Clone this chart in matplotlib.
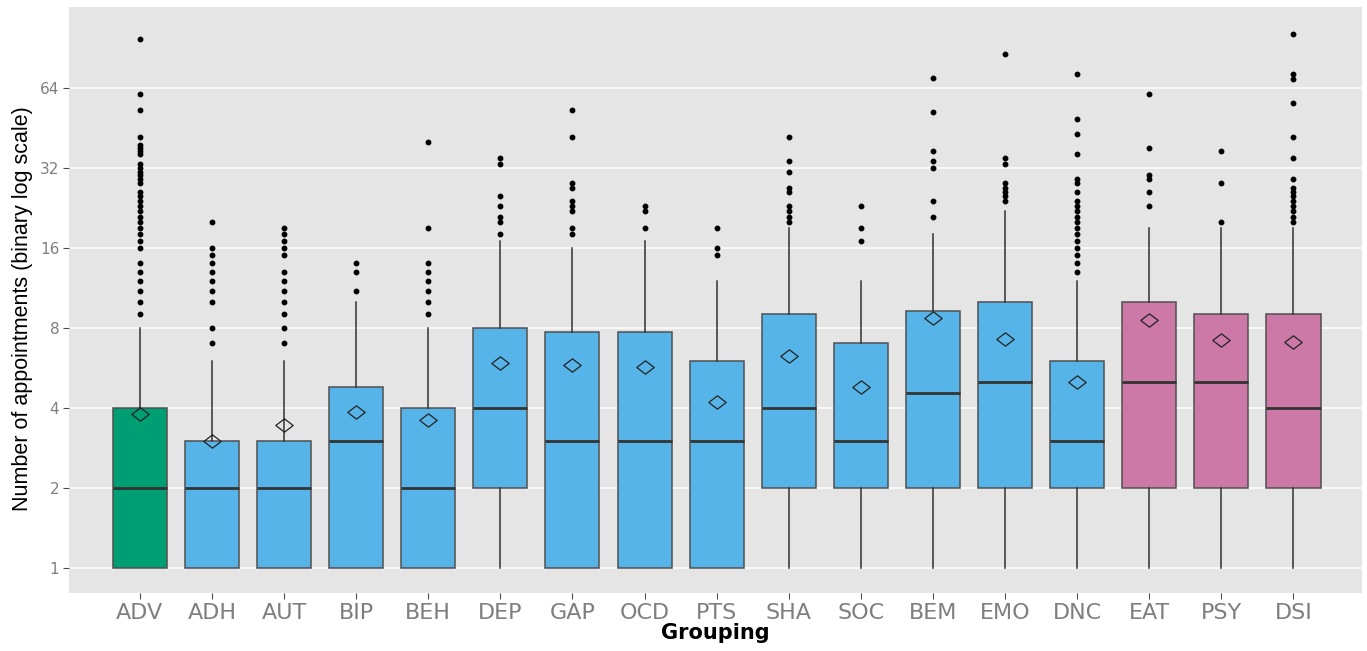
import matplotlib
matplotlib.use("Agg")
import matplotlib.pyplot as plt
import numpy as np
from matplotlib.path import Path

groups = ["ADV", "ADH", "AUT", "BIP", "BEH", "DEP", "GAP", "OCD", "PTS",
          "SHA", "SOC", "BEM", "EMO", "DNC", "EAT", "PSY", "DSI"]
whislo = [1, 1, 1, 1, 1, 1, 1, 1, 1, 1, 1, 1, 1, 1, 1, 1, 1]
q1     = [1, 1, 1, 1, 1, 2, 1, 1, 1, 2, 2, 2, 2, 2, 2, 2, 2]
median = [2, 2, 2, 3, 2, 4, 3, 3, 3, 4, 3, 4.55, 5, 3, 5, 5, 4]
q3     = [4, 3, 3, 4.8, 4, 8, 7.7, 7.7, 6, 9, 7, 9.3, 10, 6, 10, 9, 9]
whishi = [8, 6, 6, 10, 8, 17, 16, 17, 12, 19, 12, 18, 22, 12, 19, 19, 19]
means  = [3.8, 3.0, 3.45, 3.87, 3.6, 5.9, 5.8, 5.7, 4.2, 6.3, 4.8, 8.7, 7.3, 5.0, 8.6, 7.2, 7.1]
outliers = {
    "ADV": [9, 10, 11, 12, 13, 14, 16, 17, 18, 19, 20, 21, 22, 23, 24, 25, 26,
            28, 29, 30, 31, 32, 33, 36, 37, 38, 39, 42, 53, 61, 98],
    "ADH": [7, 8, 10, 11, 12, 13, 14, 15, 16, 20],
    "AUT": [7, 8, 9, 10, 11, 12, 13, 15, 16, 17, 18, 19],
    "BIP": [11, 13, 14],
    "BEH": [9, 10, 11, 12, 13, 14, 19, 40],
    "DEP": [18, 20, 21, 23, 25, 33, 35],
    "GAP": [18, 19, 22, 23, 24, 27, 28, 42, 53],
    "OCD": [19, 22, 23],
    "PTS": [15, 16, 19],
    "SHA": [20, 21, 22, 23, 26, 27, 31, 34, 42],
    "SOC": [17, 19, 23],
    "BEM": [21, 24, 32, 34, 37, 52, 70],
    "EMO": [24, 25, 26, 27, 28, 33, 35, 86],
    "DNC": [13, 14, 15, 16, 17, 18, 19, 20, 21, 22, 23, 24, 26, 28, 29, 36, 43, 49, 72],
    "EAT": [23, 26, 29, 30, 38, 61],
    "PSY": [20, 28, 37],
    "DSI": [20, 21, 22, 23, 24, 25, 26, 27, 29, 35, 42, 56, 69, 72, 102],
}
fill_colors = ["#009E73"] + ["#56B4E9"] * 13 + ["#CC79A7"] * 3

W, H = 1367, 651
fig = plt.figure(figsize=(W / 100, H / 100), dpi=100)
L, R, T, B = 69, 1362, 7, 593
ax = fig.add_axes([L / W, 1 - B / H, (R - L) / W, (B - T) / H])
ax.set_facecolor("#E5E5E5")

stats = []
for i, g in enumerate(groups):
    stats.append(dict(med=median[i], q1=q1[i], q3=q3[i], whislo=whislo[i],
                      whishi=whishi[i], fliers=outliers[g], label=g))

pos = np.arange(1, len(groups) + 1)
bp = ax.bxp(stats, positions=pos, widths=0.75, patch_artist=True, showcaps=False,
            boxprops=dict(edgecolor="#505050", linewidth=1.1),
            whiskerprops=dict(color="#333333", linewidth=1.1),
            medianprops=dict(color="#333333", linewidth=2.0),
            flierprops=dict(marker="o", markerfacecolor="black", markeredgecolor="black",
                            markersize=3.2, linestyle="none"),
            zorder=3)
for patch, c in zip(bp["boxes"], fill_colors):
    patch.set_facecolor(c)

diamond = Path([(-1.3, 0), (0, 1), (1.3, 0), (0, -1), (-1.3, 0)],
               [Path.MOVETO, Path.LINETO, Path.LINETO, Path.LINETO, Path.CLOSEPOLY])
ax.plot(pos, means, linestyle="none", marker=diamond, markersize=12.5, markerfacecolor="none",
        markeredgecolor="#222222", markeredgewidth=0.9, zorder=5)

ax.set_yscale("log", base=2)
yt = [1, 2, 4, 8, 16, 32, 64]
ax.set_yticks(yt)
ax.set_yticklabels([str(v) for v in yt])
ax.yaxis.set_minor_locator(matplotlib.ticker.NullLocator())
ax.set_ylim(2 ** (-(B - 568) / 80), 2 ** ((568 - T) / 80))
ax.set_xlim(0.018, 17.95)
ax.set_xticks(pos)
ax.set_xticklabels(groups)

ax.yaxis.grid(True, which="major", color="white", linewidth=1.1)
ax.xaxis.grid(False)
ax.set_axisbelow(True)
for s in ax.spines.values():
    s.set_visible(False)
ax.tick_params(axis="both", colors="#4D4D4D", length=4, width=0.8)
ax.tick_params(axis="x", labelsize=16, labelcolor="#7F7F7F", pad=3)
ax.tick_params(axis="y", labelsize=11, labelcolor="#7F7F7F", pad=3)
for lab in ax.get_xticklabels() + ax.get_yticklabels():
    lab.set_family(["DejaVu Sans"])

ax.set_xlabel("Grouping", fontsize=15, fontweight="bold",
              family=["DejaVu Sans"], labelpad=0)
ax.set_ylabel("Number of appointments (binary log scale)", fontsize=15.5,
              family=["Liberation Sans", "DejaVu Sans"])
ax.yaxis.set_label_coords((23 - L) / (R - L), (B - 309) / (B - T))
ax.xaxis.set_label_coords(0.5, (B - 633) / (B - T))
ax.xaxis.label.set_va("center")
ax.yaxis.label.set_va("center")

fig.savefig("out.png", dpi=100)
